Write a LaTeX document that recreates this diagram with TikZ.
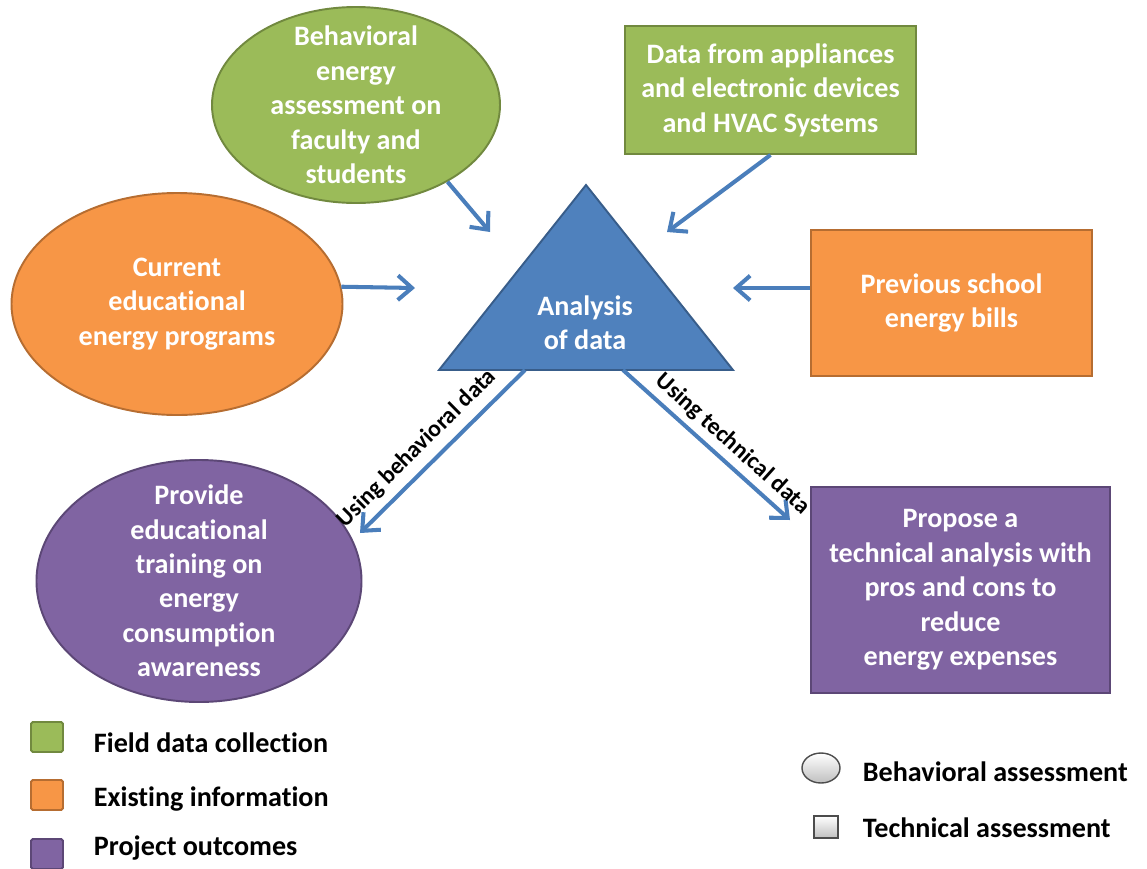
\documentclass[tikz,border=0pt]{standalone}
\usepackage{fontspec}
\setmainfont{Carlito}[Ligatures=NoCommon]
\usepackage{tikz}
\usetikzlibrary{shapes.geometric,arrows.meta}
\definecolor{grnfill}{HTML}{9BBB59}
\definecolor{grnline}{HTML}{71893F}
\definecolor{orgfill}{HTML}{F79646}
\definecolor{orgline}{HTML}{B66D31}
\definecolor{purfill}{HTML}{8064A2}
\definecolor{purline}{HTML}{5C4776}
\definecolor{blufill}{HTML}{4F81BD}
\definecolor{bluline}{HTML}{385D8A}
\definecolor{arrblue}{HTML}{4A7EBB}
\tikzset{every picture/.style={line width=1.1pt}}
\tikzset{
  txt/.style={text=white,font=\bfseries\fontsize{16}{19.6}\selectfont,align=center},
  ellbox/.style={ellipse,txt,inner xsep=0pt,inner ysep=-5mm},
  recbox/.style={rectangle,txt,inner sep=0pt},
  arr/.style={draw=arrblue,line width=2.3pt,-{Straight Barb[length=8pt,width=14pt]}},
  arrlbl/.style={font=\bfseries\fontsize{13.5}{16}\selectfont,sloped,inner sep=1pt},
  lgd/.style={anchor=west,inner sep=0pt,font=\bfseries\fontsize{16}{19.6}\selectfont},
  keybox/.style={rectangle,rounded corners=1pt,minimum width=6.4mm,minimum height=6mm}
}

\begin{document}
\begin{tikzpicture}[x=0.2mm,y=-0.2mm]
\useasboundingbox (0,0) rectangle (1147,868);
%
\node[ellbox,draw=grnline,fill=grnfill,minimum width=57.6mm,minimum height=39.2mm] (beh) at (356,105)
  {Behavioral\\energy\\assessment on\\faculty and\\students};
\node[ellbox,draw=orgline,fill=orgfill,minimum width=66.2mm,minimum height=44.4mm] (cur) at (177,304)
  {Current\\educational\\energy programs};
\node[ellbox,draw=purline,fill=purfill,minimum width=65mm,minimum height=48.4mm] (edu) at (199,581)
  {Provide\\educational\\training on\\energy\\consumption\\awareness};
%
\node[recbox,draw=grnline,fill=grnfill,minimum width=58.2mm,minimum height=25.6mm] (dev) at (770.5,90)
  {Data from appliances\\and electronic devices\\and HVAC Systems};
\node[recbox,draw=orgline,fill=orgfill,minimum width=56.2mm,minimum height=29.2mm] (bill) at (951.5,303)
  {Previous school\\energy bills};
\node[recbox,draw=purline,fill=purfill,minimum width=59.8mm,minimum height=41.2mm] (tec) at (960.5,590)
  {Propose a\\technical analysis with\\pros and cons to\\reduce\\energy expenses};
%
\coordinate (top) at (586,185);
\coordinate (bl) at (439,370);
\coordinate (br) at (733,370);
\draw[draw=bluline,fill=blufill] (top) -- (bl) -- (br) -- cycle;
\node[txt] (ana) at (585,323) {Analysis\\of data};
%
\coordinate (c1) at (490,232);
\coordinate (c2) at (667,232);
\coordinate (c3) at (415,288);
\coordinate (c4) at (733,288);
\coordinate (b1) at (525,370);
\coordinate (b2) at (623,370);
\coordinate (c5) at (360,533);
\coordinate (c6) at (790,520);
%
\draw[arr] (beh.-40) -- (c1);
\draw[arr] (dev.south) -- (c2);
\draw[arr] (cur.6) -- (c3);
\draw[arr] (bill.west |- c4) -- (c4);
\draw[arr] (b1) -- node[arrlbl,pos=0.57,above=1.2mm] {Using behavioral data} (c5);
\draw[arr] (b2) -- node[arrlbl,pos=0.585,above=0.8mm] {Using technical data} (c6);
%
\node[keybox,draw=grnline,fill=grnfill] (k1) at (47,737) {};
\node[keybox,draw=orgline,fill=orgfill] (k2) at (47,795) {};
\node[keybox,draw=purline,fill=purfill] (k3) at (47,854) {};
\node[lgd] (l1) at (93,743) {Field data collection};
\node[lgd] (l2) at (93,799) {Existing information};
\node[lgd] (l3) at (93,848) {Project outcomes};
%
\node[ellipse,draw=black!70,top color=white,bottom color=black!25,line width=0.8pt,
  minimum width=7.6mm,minimum height=6mm] (k4) at (821,768) {};
\node[rectangle,draw=black!70,top color=white,bottom color=black!25,line width=0.8pt,
  minimum width=4.8mm,minimum height=4.4mm] (k5) at (826,827) {};
\node[lgd] (l4) at (862,772) {Behavioral assessment};
\node[lgd] (l5) at (862,828) {Technical assessment};
\end{tikzpicture}
\end{document}
